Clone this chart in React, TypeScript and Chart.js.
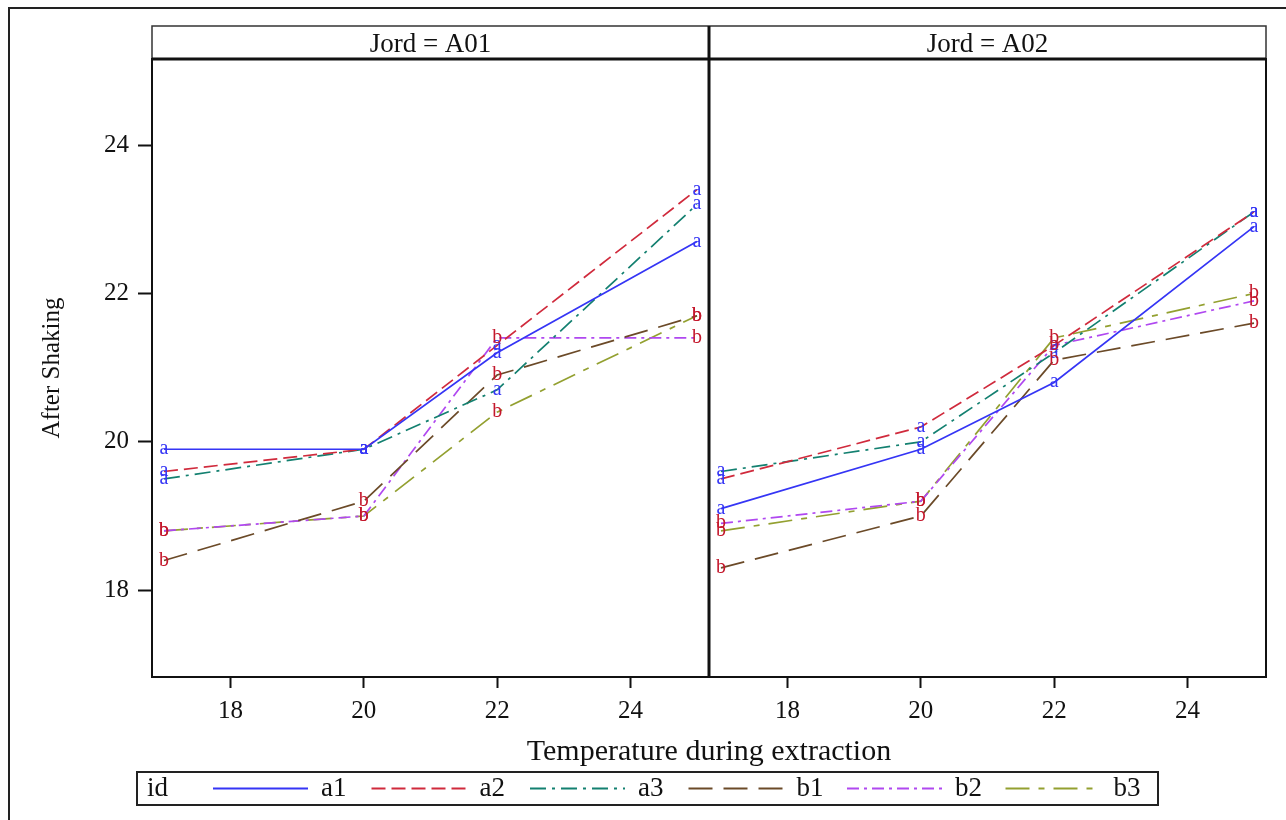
import React, { useEffect, useRef } from 'react';
import { Chart, registerables } from 'chart.js';

Chart.register(...registerables);

// ---------- data ----------
const temperatures = [17, 20, 22, 25];
const seriesIds = ['a1', 'a2', 'a3', 'b1', 'b2', 'b3'];
const seriesLetters = ['a', 'a', 'a', 'b', 'b', 'b'];
const panelNames = ['A01', 'A02'];

const a01_a1 = [19.9, 19.9, 21.2, 22.7];
const a01_a2 = [19.6, 19.9, 21.3, 23.4];
const a01_a3 = [19.5, 19.9, 20.7, 23.2];
const a01_b1 = [18.4, 19.2, 20.9, 21.7];
const a01_b2 = [18.8, 19.0, 21.4, 21.4];
const a01_b3 = [18.8, 19.0, 20.4, 21.7];

const a02_a1 = [19.1, 19.9, 20.8, 22.9];
const a02_a2 = [19.5, 20.2, 21.3, 23.1];
const a02_a3 = [19.6, 20.0, 21.2, 23.1];
const a02_b1 = [18.3, 19.0, 21.1, 21.6];
const a02_b2 = [18.9, 19.2, 21.3, 21.9];
const a02_b3 = [18.8, 19.2, 21.4, 22.0];

const panelValues = [
  [a01_a1, a01_a2, a01_a3, a01_b1, a01_b2, a01_b3],
  [a02_a1, a02_a2, a02_a3, a02_b1, a02_b2, a02_b3],
];

const xTickValues = [18, 20, 22, 24];
const yTickValues = [18, 20, 22, 24];

const xTitle = 'Temperature during extraction';
const yTitle = 'After Shaking';
const legendTitle = 'id';

// ---------- styles ----------
const seriesColors = ['#3535f5', '#d02a3c', '#138070', '#6b4a28', '#b048f0', '#93a030'];
const seriesDashes: number[][] = [[], [14, 6], [16, 6, 3, 6], [24, 11], [12, 5, 3, 5], [24, 9, 6, 9]];
const letterColors: Record<string, string> = { a: '#3535f5', b: '#c4182c' };
const SERIF = '"Liberation Serif", "DejaVu Serif", serif';

const W = 1286;
const H = 820;

const decorPlugin = {
  id: 'decor',
  beforeDraw(chart: any) {
    const ctx = chart.ctx;
    ctx.save();
    ctx.fillStyle = '#ffffff';
    ctx.fillRect(0, 0, W, H);
    ctx.restore();
  },
  afterDatasetsDraw(chart: any) {
    const ctx = chart.ctx;
    ctx.save();
    ctx.font = `20px ${SERIF}`;
    ctx.textAlign = 'center';
    ctx.textBaseline = 'alphabetic';
    chart.data.datasets.forEach((ds: any, i: number) => {
      const meta = chart.getDatasetMeta(i);
      const letter = ds.markLetter;
      ctx.fillStyle = letterColors[letter];
      meta.data.forEach((pt: any) => {
        ctx.fillText(letter, pt.x, pt.y + 5);
      });
    });
    ctx.restore();
  },
  afterDraw(chart: any) {
    const ctx = chart.ctx;
    const area = chart.chartArea;
    const x1 = chart.scales.x1;
    const x2 = chart.scales.x2;
    ctx.save();

    // outer frame
    ctx.strokeStyle = '#222';
    ctx.lineWidth = 2;
    ctx.beginPath();
    ctx.moveTo(9, H);
    ctx.lineTo(9, 8);
    ctx.lineTo(W, 8);
    ctx.stroke();

    const headerTop = 26;
    // header strip
    ctx.strokeStyle = '#333';
    ctx.lineWidth = 1.5;
    ctx.strokeRect(x1.left, headerTop, x2.right - x1.left, area.top - headerTop);

    // panel boxes
    ctx.strokeStyle = '#111';
    ctx.lineWidth = 2;
    ctx.strokeRect(x1.left, area.top, x2.right - x1.left, area.bottom - area.top);
    // header bottom thick line
    ctx.lineWidth = 3;
    ctx.beginPath();
    ctx.moveTo(x1.left, area.top);
    ctx.lineTo(x2.right, area.top);
    ctx.stroke();
    // panel divider
    ctx.lineWidth = 3;
    ctx.beginPath();
    ctx.moveTo(x1.right, headerTop);
    ctx.lineTo(x1.right, area.bottom);
    ctx.stroke();

    // header texts
    ctx.fillStyle = '#111';
    ctx.font = `27px ${SERIF}`;
    ctx.textAlign = 'center';
    ctx.textBaseline = 'middle';
    const hy = (headerTop + area.top) / 2 + 2;
    ctx.fillText(`Jord = ${panelNames[0]}`, (x1.left + x1.right) / 2, hy);
    ctx.fillText(`Jord = ${panelNames[1]}`, (x2.left + x2.right) / 2, hy);

    // x title
    ctx.font = `30px ${SERIF}`;
    ctx.fillText(xTitle, (x1.left + x2.right) / 2, 752);

    // y title
    ctx.save();
    ctx.translate(52, (area.top + area.bottom) / 2);
    ctx.rotate(-Math.PI / 2);
    ctx.font = `25px ${SERIF}`;
    ctx.fillText(yTitle, 0, 0);
    ctx.restore();

    // legend
    const lx = 137, ly = 772, lw = 1021, lh = 33;
    ctx.strokeStyle = '#222';
    ctx.lineWidth = 2;
    ctx.strokeRect(lx, ly, lw, lh);
    const cy = ly + lh / 2;
    ctx.font = `27px ${SERIF}`;
    ctx.textAlign = 'left';
    ctx.fillStyle = '#111';
    ctx.fillText(legendTitle, 147, cy);
    seriesIds.forEach((id, i) => {
      const sx = 213 + i * 158.5;
      ctx.save();
      ctx.strokeStyle = seriesColors[i];
      ctx.lineWidth = 2;
      ctx.setLineDash(seriesDashes[i]);
      ctx.beginPath();
      ctx.moveTo(sx, cy);
      ctx.lineTo(sx + 95, cy);
      ctx.stroke();
      ctx.restore();
      ctx.fillStyle = '#111';
      ctx.fillText(id, sx + 108, cy);
    });

    ctx.restore();
  },
};

function xScale(stackName: string) {
  return {
    type: 'linear',
    axis: 'x',
    position: 'bottom',
    stack: stackName,
    min: 16.82,
    max: 25.18,
    afterBuildTicks: (scale: any) => {
      scale.ticks = xTickValues.map((v) => ({ value: v }));
    },
    afterFit: (scale: any) => {
      scale.height = 50;
    },
    grid: {
      display: true,
      drawOnChartArea: false,
      drawTicks: true,
      tickLength: 11,
      tickColor: '#111',
      tickWidth: 2,
    },
    border: { display: false },
    ticks: {
      autoSkip: false,
      maxRotation: 0,
      padding: 8,
      color: '#111',
      font: { family: SERIF, size: 25 },
      callback: (v: number) => String(v),
    },
  };
}

export default function App() {
  const canvasRef = useRef<HTMLCanvasElement | null>(null);

  useEffect(() => {
    if (!canvasRef.current) return;
    const datasets: any[] = [];
    panelValues.forEach((vals, p) => {
      vals.forEach((series, s) => {
        datasets.push({
          label: `${panelNames[p]} ${seriesIds[s]}`,
          markLetter: seriesLetters[s],
          data: temperatures.map((t, k) => ({ x: t, y: series[k] })),
          xAxisID: p === 0 ? 'x1' : 'x2',
          yAxisID: 'y',
          borderColor: seriesColors[s],
          backgroundColor: seriesColors[s],
          borderDash: seriesDashes[s],
          borderWidth: 1.7,
          pointRadius: 0,
          pointHoverRadius: 0,
          fill: false,
          tension: 0,
        });
      });
    });

    const chart = new Chart(canvasRef.current, {
      type: 'line',
      data: { datasets },
      options: {
        animation: false,
        responsive: false,
        devicePixelRatio: 1,
        parsing: true,
        layout: { padding: { left: 0, top: 59, right: 20, bottom: 93 } },
        plugins: {
          legend: { display: false },
          tooltip: { enabled: false },
          title: { display: false },
        },
        events: [],
        scales: {
          x1: xScale('panels') as any,
          x2: xScale('panels') as any,
          y: {
            type: 'linear',
            position: 'left',
            min: 16.83,
            max: 25.16,
            afterBuildTicks: (scale: any) => {
              scale.ticks = yTickValues.map((v) => ({ value: v }));
            },
            afterFit: (scale: any) => {
              scale.width = 152;
            },
            grid: {
              display: true,
              drawOnChartArea: false,
              drawTicks: true,
              tickLength: 14,
              tickColor: '#111',
              tickWidth: 2,
            },
            border: { display: false },
            ticks: {
              padding: 9,
              color: '#111',
              font: { family: SERIF, size: 25 },
              callback: (v: number) => String(v),
            },
          } as any,
        },
      },
      plugins: [decorPlugin],
    } as any);

    return () => chart.destroy();
  }, []);

  return (
    <div style={{ position: 'absolute', left: 0, top: 0, width: W, height: H }}>
      <canvas ref={canvasRef} width={W} height={H} style={{ display: 'block', width: W, height: H }} />
    </div>
  );
}
